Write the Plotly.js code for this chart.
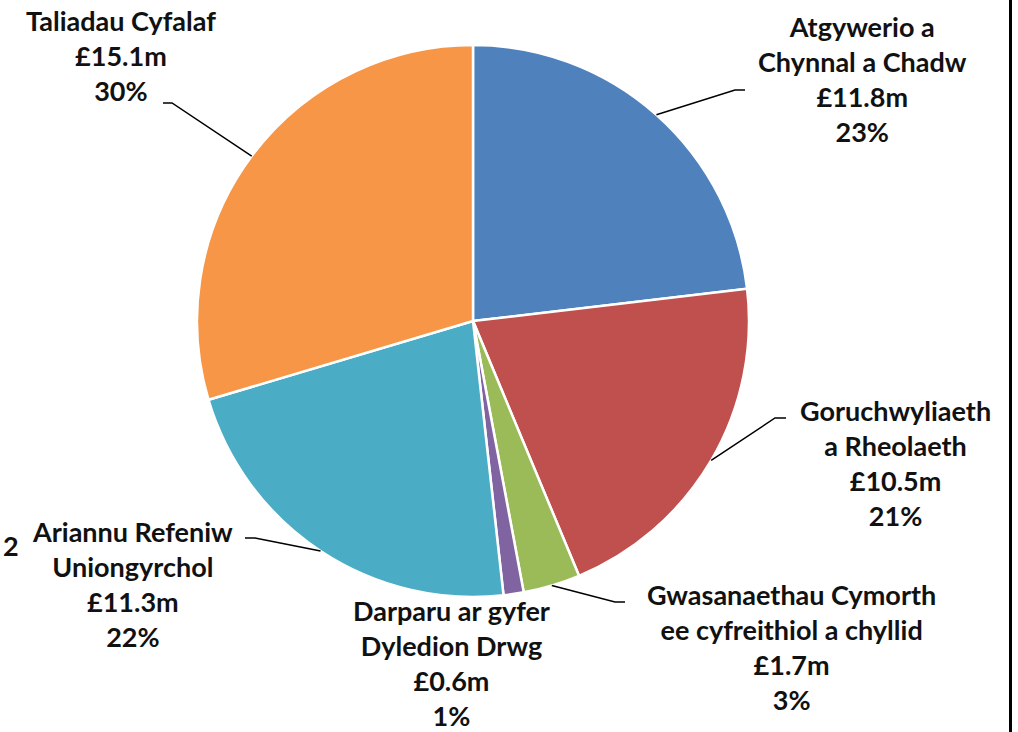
<!DOCTYPE html>
<html>
<head>
<meta charset="utf-8">
<script src="https://cdn.plot.ly/plotly-3.0.1.min.js"></script>
<style>
  html, body { margin: 0; padding: 0; background: #ffffff; }
  #chart { width: 1018px; height: 732px; }
</style>
</head>
<body>
<div id="chart"></div>
<script>
// ---- data ----
const categories = [
  'Atgywerio a<br>Chynnal a Chadw',
  'Goruchwyliaeth<br>a Rheolaeth',
  'Gwasanaethau Cymorth<br>ee cyfreithiol a chyllid',
  'Darparu ar gyfer<br>Dyledion Drwg',
  'Ariannu Refeniw<br>Uniongyrchol',
  'Taliadau Cyfalaf'
];
const values = [11.8, 10.5, 1.7, 0.6, 11.3, 15.1];   // £m
const colors = ['#4F81BD', '#C0504D', '#9BBB59', '#8064A2', '#4BACC6', '#F79646'];

// ---- layout helpers (pixel -> paper) ----
const W = 1018, H = 732;
const px = x => x / W;
const py = y => (H - y) / H;

const cx = 473, cy = 321, R = 276;   // pie centre & radius (px)

// label placement (px) and leader-line elbows (null = no leader)
const labelPos = [
  {x: 862, y: 79},
  {x: 895, y: 463},
  {x: 791, y: 647},
  {x: 451, y: 663},
  {x: 132, y: 584},
  {x: 121, y: 55}
];
const elbows = [
  {ex: 735, ey: 90, hx: 745},
  {ex: 775, ey: 418, hx: 786},
  {ex: 615, ey: 602, hx: 625},
  null,
  {ex: 255, ey: 538, hx: 245},
  {ex: 172, ey: 103, hx: 163}
];

const total = values.reduce((a, b) => a + b, 0);
const labelFont = {family: 'Lato, "DejaVu Sans", sans-serif', size: 27, color: '#111111', weight: 'bold'};

const annotations = [];
const shapes = [];
let cum = 0;
values.forEach((v, i) => {
  const mid = (cum + v / 2) / total * 2 * Math.PI;
  cum += v;
  const pct = Math.round(v / total * 100);
  const text = categories[i] + '<br>£' + v.toFixed(1) + 'm<br>' + pct + '%';
  annotations.push({
    xref: 'paper', yref: 'paper',
    x: px(labelPos[i].x), y: py(labelPos[i].y),
    xanchor: 'center', yanchor: 'middle', align: 'center',
    showarrow: false, text: text,
    font: labelFont
  });
  const e = elbows[i];
  if (e) {
    const sx = cx + R * Math.sin(mid), sy = cy - R * Math.cos(mid);
    shapes.push({
      type: 'path', xref: 'paper', yref: 'paper',
      path: 'M ' + px(sx) + ',' + py(sy) + ' L ' + px(e.ex) + ',' + py(e.ey) + ' L ' + px(e.hx) + ',' + py(e.ey),
      line: {color: '#000000', width: 1.5}
    });
  }
});

// stray label fragment at left edge
annotations.push({
  xref: 'paper', yref: 'paper', x: px(1), y: py(545),
  xanchor: 'left', yanchor: 'middle', showarrow: false, text: '2',
  font: labelFont
});

// black border line at right edge
shapes.push({
  type: 'line', xref: 'paper', yref: 'paper',
  x0: px(1010.5), x1: px(1010.5), y0: 0, y1: 1,
  line: {color: '#000000', width: 3}
});

const trace = {
  type: 'pie',
  labels: categories,
  values: values,
  sort: false,
  direction: 'clockwise',
  rotation: 0,
  textinfo: 'none',
  hoverinfo: 'label+value+percent',
  marker: {colors: colors, line: {color: '#ffffff', width: 2.5}},
  domain: {x: [px(cx - R), px(cx + R)], y: [py(cy + R), py(cy - R)]},
  showlegend: false
};

const layout = {
  width: W, height: H,
  margin: {l: 0, r: 0, t: 0, b: 0},
  paper_bgcolor: '#ffffff',
  plot_bgcolor: '#ffffff',
  showlegend: false,
  annotations: annotations,
  shapes: shapes
};

Plotly.newPlot('chart', [trace], layout, {displayModeBar: false, staticPlot: true});
</script>
</body>
</html>
